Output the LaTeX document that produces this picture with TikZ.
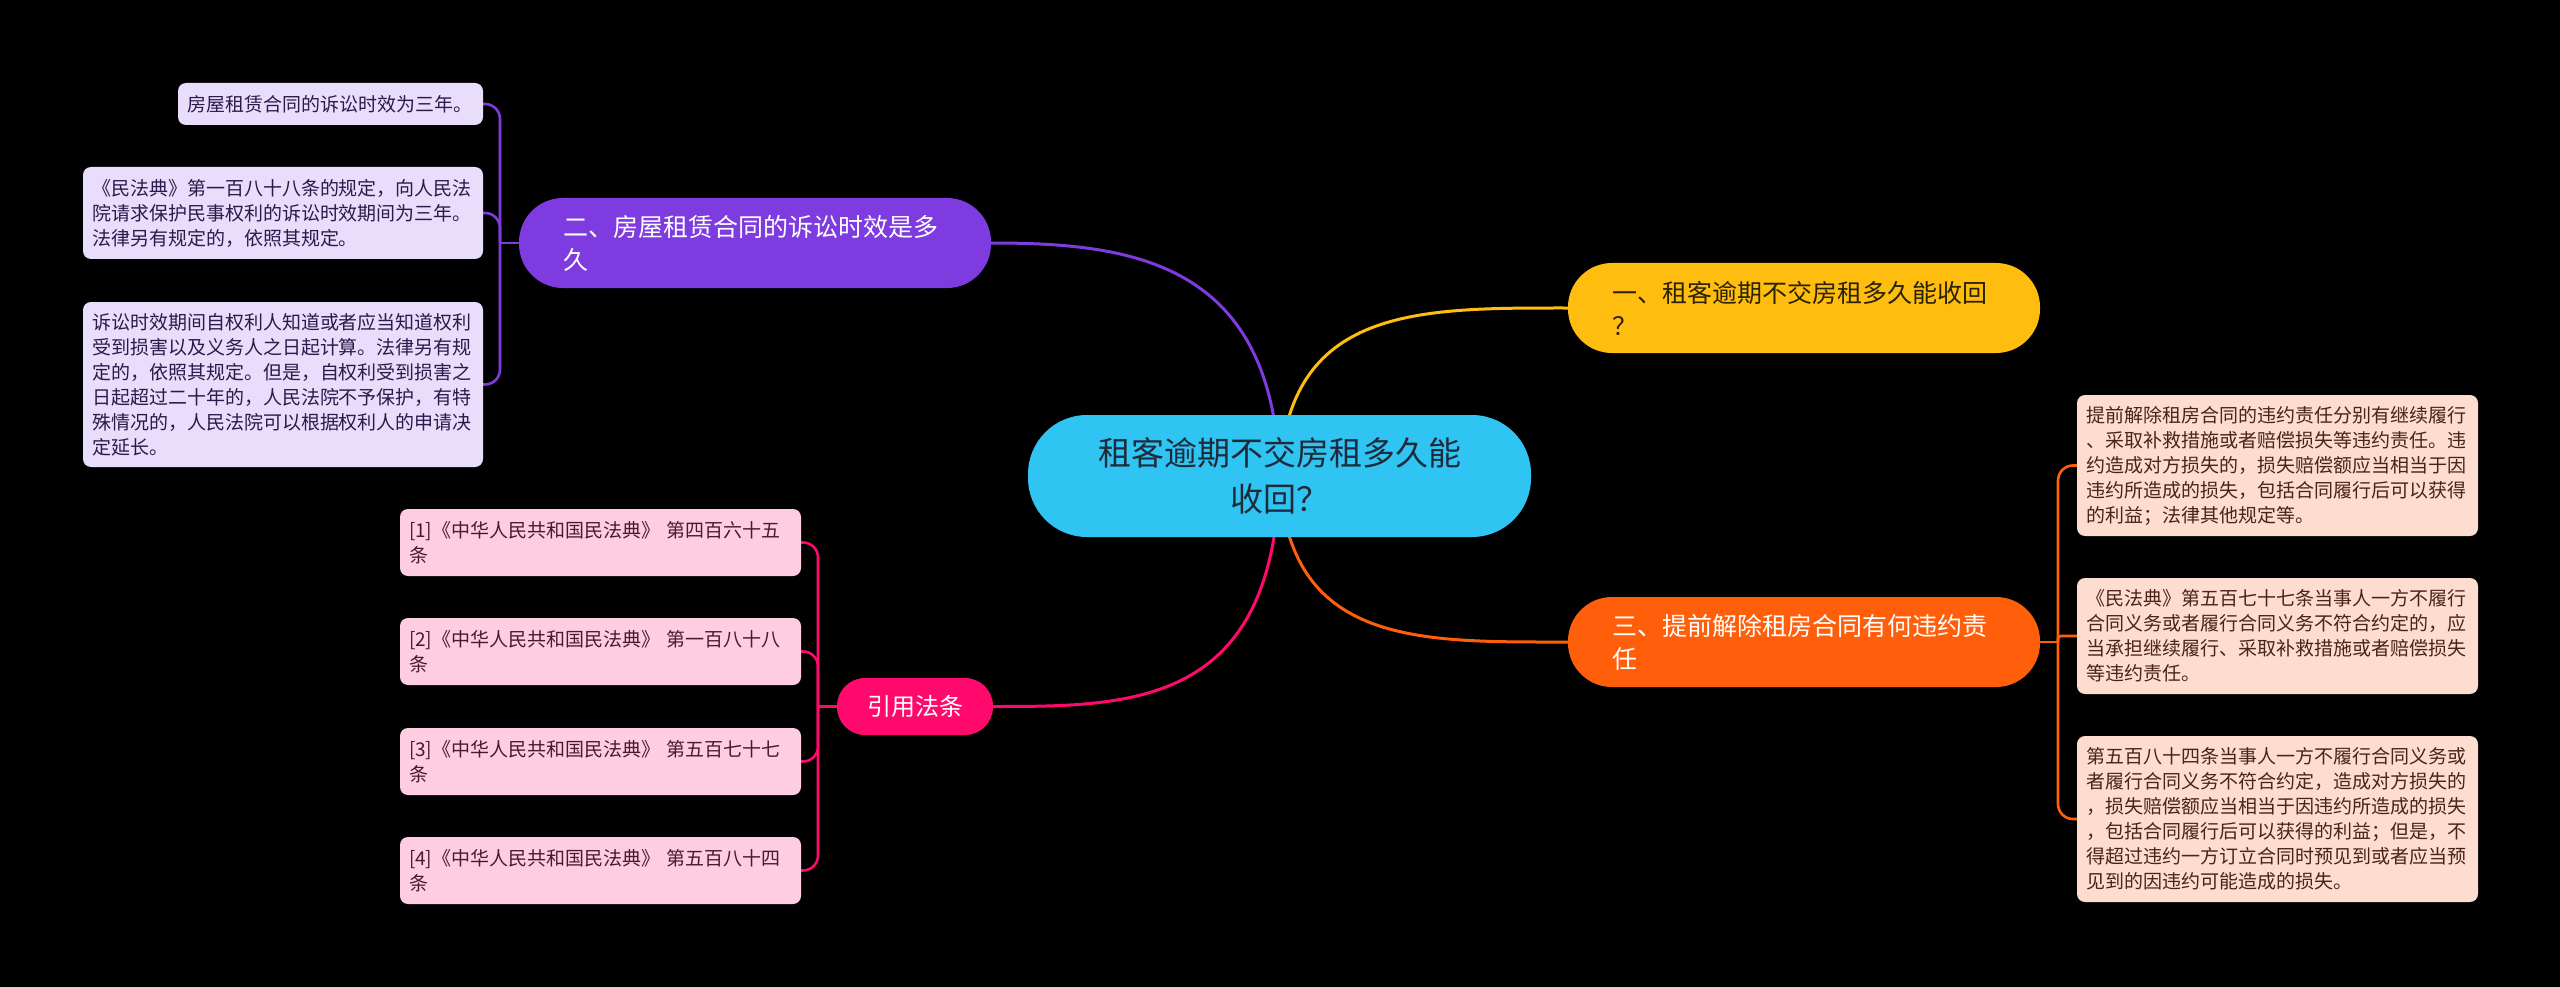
\documentclass[tikz,border=0pt]{standalone}
\usepackage{fontspec}
\newfontfamily\cjk{Noto Sans CJK SC}
\definecolor{cblue}{HTML}{30C4F3}
\definecolor{cyellow}{HTML}{FFBE0F}
\definecolor{cpurple}{HTML}{7E3BE0}
\definecolor{corange}{HTML}{FF5F0A}
\definecolor{cpink}{HTML}{FF0A6C}
\definecolor{lpurple}{HTML}{E8DDFB}
\definecolor{lorange}{HTML}{FDDDCF}
\definecolor{lpink}{HTML}{FFCDE2}
\definecolor{tdark}{HTML}{1E2B3A}
\definecolor{tpurple}{HTML}{2B1A4A}
\definecolor{torange}{HTML}{4A2415}
\definecolor{tpink}{HTML}{4A1A2A}
\definecolor{tyellow}{HTML}{2A2200}
\pgfdeclarelayer{background}
\pgfsetlayers{background,main}
\begin{document}
\begin{tikzpicture}[x=1pt,y=-1pt,
  box/.style={inner sep=0pt, anchor=center},
  central/.style={box, fill=cblue, text=tdark, rounded corners=59pt, minimum width=503pt, minimum height=122pt, text width=420pt, align=center, font=\cjk\fontsize{33}{46}\selectfont},
  topic/.style={box, rounded corners=44pt, minimum width=472pt, minimum height=90pt, text width=384pt, align=left, font=\cjk\fontsize{25}{33}\selectfont},
  pinkpill/.style={box, fill=cpink, text=white, rounded corners=28pt, minimum width=156pt, minimum height=57pt, align=center, font=\cjk\fontsize{24}{30}\selectfont},
  leaf/.style={box, rounded corners=8pt, align=left, font=\cjk\fontsize{19}{25}\selectfont},
  pleaf/.style={leaf, fill=lpurple, text=tpurple},
  oleaf/.style={leaf, fill=lorange, text=torange},
  kleaf/.style={leaf, fill=lpink, text=tpink, minimum width=401pt, minimum height=67pt, text width=383pt},
  conn/.style={line width=3pt},
  brk/.style={line width=2.6pt, rounded corners=15pt}
]
\begin{pgfonlayer}{background}
\fill[black] (0,0) rectangle (2560,987);
\end{pgfonlayer}
\useasboundingbox (0,0) rectangle (2560,987);

% central
\node[central] (c) at (1279.5,476) {租客逾期不交房租多久能\\收回？};

% main topics
\node[topic, fill=cyellow, text=tyellow] (n1) at (1804,308) {一、租客逾期不交房租多久能收回\\？};
\node[topic, fill=cpurple, text=white] (n2) at (755,243) {二、房屋租赁合同的诉讼时效是多\\久};
\node[topic, fill=corange, text=white] (n3) at (1804,642) {三、提前解除租房合同有何违约责\\任};
\node[pinkpill] (n4) at (915,706.5) {引用法条};

% purple leaves
\node[pleaf, minimum width=305pt, minimum height=42pt, text width=287pt] (pa) at (330.5,104) {房屋租赁合同的诉讼时效为三年。};
\node[pleaf, minimum width=400pt, minimum height=92pt, text width=382pt] (pb) at (283,213) {《民法典》第一百八十八条的规定，向人民法\\院请求保护民事权利的诉讼时效期间为三年。\\法律另有规定的，依照其规定。};
\node[pleaf, minimum width=400pt, minimum height=165pt, text width=382pt] (pc) at (283,384.5) {诉讼时效期间自权利人知道或者应当知道权利\\受到损害以及义务人之日起计算。法律另有规\\定的，依照其规定。但是，自权利受到损害之\\日起超过二十年的，人民法院不予保护，有特\\殊情况的，人民法院可以根据权利人的申请决\\定延长。};

% orange leaves
\node[oleaf, minimum width=401pt, minimum height=141pt, text width=383pt] (od) at (2277.5,465.5) {提前解除租房合同的违约责任分别有继续履行\\、采取补救措施或者赔偿损失等违约责任。违\\约造成对方损失的，损失赔偿额应当相当于因\\违约所造成的损失，包括合同履行后可以获得\\的利益；法律其他规定等。};
\node[oleaf, minimum width=401pt, minimum height=116pt, text width=383pt] (oe) at (2277.5,636) {《民法典》第五百七十七条当事人一方不履行\\合同义务或者履行合同义务不符合约定的，应\\当承担继续履行、采取补救措施或者赔偿损失\\等违约责任。};
\node[oleaf, minimum width=401pt, minimum height=166pt, text width=383pt] (of) at (2277.5,819) {第五百八十四条当事人一方不履行合同义务或\\者履行合同义务不符合约定，造成对方损失的\\，损失赔偿额应当相当于因违约所造成的损失\\，包括合同履行后可以获得的利益；但是，不\\得超过违约一方订立合同时预见到或者应当预\\见到的因违约可能造成的损失。};

% pink leaves
\node[kleaf] (kg) at (600.5,542.5) {[1]《中华人民共和国民法典》 第四百六十五\\条};
\node[kleaf] (kh) at (600.5,651.5) {[2]《中华人民共和国民法典》 第一百八十八\\条};
\node[kleaf] (ki) at (600.5,761.5) {[3]《中华人民共和国民法典》 第五百七十七\\条};
\node[kleaf] (kj) at (600.5,870.5) {[4]《中华人民共和国民法典》 第五百八十四\\条};

\coordinate (j2) at (500,243);
\coordinate (j3) at (2058,642);
\coordinate (j4) at (818,706.5);

\begin{pgfonlayer}{background}
% central connectors
\draw[conn, cpurple] (c.center) .. controls +(-6,-215) and +(140,0) .. (n2.east);
\draw[conn, cyellow] (c.center) .. controls +(8,-170) and +(-150,0) .. (n1.west);
\draw[conn, corange] (c.center) .. controls +(8,170) and +(-150,0) .. (n3.west);
\draw[conn, cpink] (c.center) .. controls +(-6,230) and +(140,0) .. (n4.east);
% purple bracket
\draw[conn, cpurple, line width=2.6pt] (n2.west) -- (j2);
\draw[brk, cpurple] (j2) |- (pa.east);
\draw[brk, cpurple] (j2) |- (pb.east);
\draw[brk, cpurple] (j2) |- (pc.east);
% orange bracket
\draw[conn, corange, line width=2.6pt] (n3.east) -- (j3);
\draw[brk, corange] (j3) |- (od.west);
\draw[brk, corange, rounded corners=3pt] (j3) |- (oe.west);
\draw[brk, corange] (j3) |- (of.west);
% pink bracket
\draw[conn, cpink, line width=2.6pt] (n4.west) -- (j4);
\draw[brk, cpink] (j4) |- (kg.east);
\draw[brk, cpink] (j4) |- (kh.east);
\draw[brk, cpink] (j4) |- (ki.east);
\draw[brk, cpink] (j4) |- (kj.east);
\end{pgfonlayer}
\end{tikzpicture}
\end{document}
